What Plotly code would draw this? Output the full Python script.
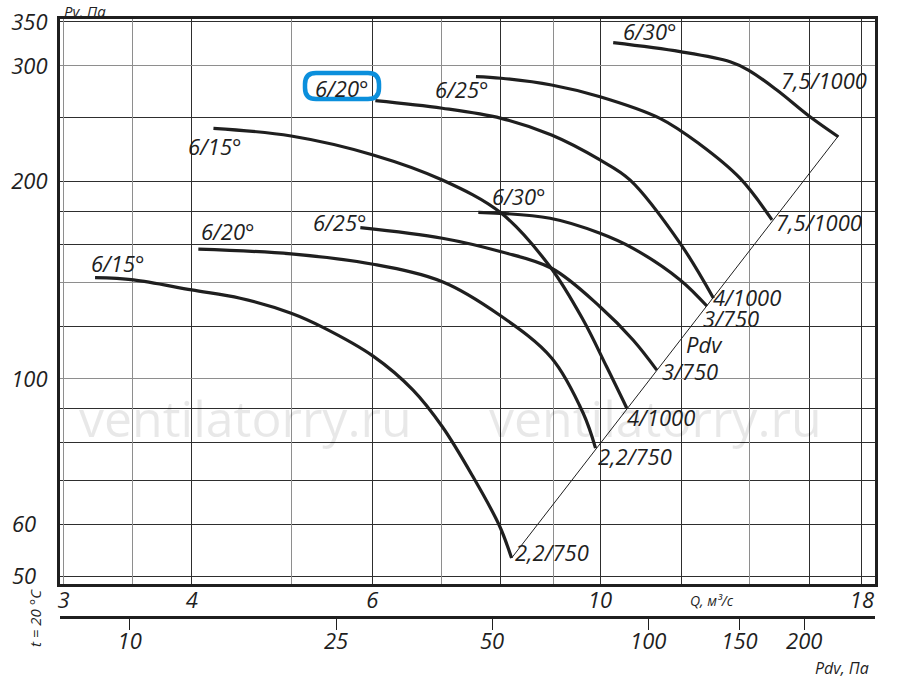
import plotly.graph_objects as go

# --- оси ---------------------------------------------------------------
q_ticks = [3, 4, 6, 10, 18]
q_grid_minor = [8, 12, 16]
q_grid_grey = [3, 3.5, 5, 7, 9, 14]

pv_ticks = [50, 60, 100, 200, 300, 350]
pv_ticktext = ['50\u00a0\u00a0', '60\u00a0\u00a0', '100', '200', '300', '350']
pv_grid_minor = [70, 80, 90, 120, 160, 180, 250]
pv_grid_grey = [100, 140, 300]

pdv_ticks = [10, 25, 50, 100, 150, 200]

# --- характеристики (Q, Pv) -------------------------------------------
q_615a = [3.22, 3.51, 4.0, 4.46, 5.0, 5.37, 6.01, 6.57, 7.02, 7.52, 7.98, 8.2]
p_615a = [142.6, 141.5, 136.6, 132.7, 125.9, 119.8, 108.3, 96.2, 84.5, 70.9, 59.7, 53.3]

q_620a = [4.06, 5.0, 6.01, 7.02, 7.98, 8.97, 9.63, 9.9]
p_620a = [157.7, 155.0, 149.5, 140.6, 125.1, 107.6, 88.6, 78.4]

q_625a = [5.84, 7.02, 8.01, 8.97, 10.0, 10.77, 11.36]
p_625a = [170.0, 163.8, 156.2, 147.4, 128.8, 114.6, 103.1]

q_630a = [7.61, 8.94, 10.0, 10.77, 11.97, 12.71]
p_630a = [179.4, 175.7, 166.7, 158.1, 141.5, 129.1]

q_615b = [4.2, 5.0, 6.01, 7.02, 8.01, 8.94, 9.63, 10.15, 10.62]
p_615b = [240.9, 234.5, 219.4, 200.9, 178.9, 148.2, 122.9, 104.3, 90.2]

q_620b = [6.04, 7.02, 8.01, 8.97, 10.0, 10.7, 11.97, 12.9]
p_620b = [265.5, 258.5, 249.5, 235.3, 215.6, 200.9, 160.9, 132.7]

q_625b = [7.57, 8.01, 8.97, 10.0, 11.44, 12.5, 13.69, 14.71]
p_625b = [288.8, 287.2, 280.5, 269.2, 249.5, 228.0, 202.2, 174.7]

q_630b = [10.3, 11.97, 13.39, 13.95, 14.87, 16.02, 17.07]
p_630b = [325.4, 315.3, 304.4, 295.6, 275.6, 250.9, 233.9]

# линия динамического давления Pdv
q_pdv = [8.2, 17.07]
p_pdv = [53.3, 234.5]

curves = [
    (q_615a, p_615a), (q_620a, p_620a), (q_625a, p_625a), (q_630a, p_630a),
    (q_615b, p_615b), (q_620b, p_620b), (q_625b, p_625b), (q_630b, p_630b),
]

FONT = 'Open Sans'
INK = '#1f1f1f'
DARK = '#2e2e2e'
GREY = '#8e8e8e'

L, R, T, B = 60, 25, 19, 61
W, H = 900, 678
PW, PH = W - L - R, H - T - B


def px(x, y):
    """пиксели окна -> координаты paper"""
    return (x - L) / PW, (H - B - y) / PH


fig = go.Figure()

for q, p in curves:
    fig.add_trace(go.Scatter(
        x=q, y=p, mode='lines',
        line=dict(color=INK, width=3.2, shape='spline', smoothing=1.0),
        hoverinfo='skip', showlegend=False
    ))

fig.add_trace(go.Scatter(
    x=q_pdv, y=p_pdv, mode='lines',
    line=dict(color=INK, width=1),
    hoverinfo='skip', showlegend=False
))

# пустые трассы, чтобы появились вспомогательные оси
fig.add_trace(go.Scatter(x=[None], y=[None], xaxis='x2', yaxis='y',
                         showlegend=False, hoverinfo='skip'))
fig.add_trace(go.Scatter(x=[None], y=[None], xaxis='x3', yaxis='y2',
                         showlegend=False, hoverinfo='skip'))

tick_font = dict(family=FONT, size=22, color=INK, style='italic')
y_dom = [(H - B - 584) / PH, 1]

fig.update_layout(
    width=W, height=H,
    margin=dict(l=L, r=R, t=T, b=B, autoexpand=False),
    paper_bgcolor='white', plot_bgcolor='white',
    showlegend=False,
    xaxis=dict(
        type='log', range=[0.4737, 1.268], automargin=False,
        tickvals=q_ticks, ticktext=[str(v) for v in q_ticks],
        tickfont=tick_font, ticks='', ticklabelstandoff=-5,
        showgrid=True, gridcolor=DARK, gridwidth=1.3,
        minor=dict(tickvals=q_grid_minor, showgrid=True, gridcolor=DARK,
                   gridwidth=1.3, ticks=''),
        showline=True, linecolor=INK, linewidth=3, mirror=True,
        zeroline=False, anchor='y'
    ),
    xaxis3=dict(
        type='log', range=[0.4737, 1.268], overlaying='x', anchor='y',
        tickvals=q_grid_grey, showticklabels=False, ticks='',
        showgrid=True, gridcolor=GREY, gridwidth=1.3, showline=False,
        zeroline=False, automargin=False
    ),
    xaxis2=dict(
        type='log', range=[0.8656, 2.4374], overlaying='x',
        anchor='free', position=0, side='bottom', automargin=False,
        tickvals=pdv_ticks, ticktext=[str(v) for v in pdv_ticks],
        tickfont=tick_font, ticks='outside', ticklen=11, tickwidth=1,
        tickcolor=INK, ticklabelstandoff=-7,
        showgrid=False, showline=True, linecolor=INK, linewidth=3,
        zeroline=False
    ),
    yaxis=dict(
        type='log', range=[1.6872, 2.5485], domain=y_dom, automargin=False,
        tickvals=pv_ticks, ticktext=pv_ticktext,
        tickfont=tick_font, ticks='', ticklabelstandoff=5,
        showgrid=True, gridcolor=DARK, gridwidth=1.3,
        minor=dict(tickvals=pv_grid_minor, showgrid=True, gridcolor=DARK,
                   gridwidth=1.3, ticks=''),
        showline=True, linecolor=INK, linewidth=3, mirror=True,
        zeroline=False
    ),
    yaxis2=dict(
        type='log', range=[1.6872, 2.5485], overlaying='y', side='left',
        tickvals=pv_grid_grey, showticklabels=False, ticks='',
        showgrid=True, gridcolor=GREY, gridwidth=1.3, showline=False,
        zeroline=False, automargin=False
    ),
)

# --- подписи ----------------------------------------------------------
lab_font = dict(family=FONT, size=22, color=INK, style='italic')


def label(text, x, y, anchor='center', font=lab_font, **kw):
    xp, yp = px(x, y)
    fig.add_annotation(text=text, x=xp, y=yp, xref='paper', yref='paper',
                       xanchor=anchor, yanchor='middle', showarrow=False,
                       font=font, **kw)


# углы лопаток
label('6/15°', 118, 263)
label('6/20°', 228, 231)
label('6/25°', 340, 222)
label('6/30°', 519, 196)
label('6/15°', 215, 146)
label('6/20°', 342, 88)
label('6/25°', 462, 89)
label('6/30°', 650, 31)

# мощность / обороты на линии Pdv
label('2,2/750', 513, 552, anchor='left')
label('2,2/750', 596, 456, anchor='left')
label('4/1000', 625, 417, anchor='left')
label('3/750', 660, 371, anchor='left')
label('Pdv', 684, 344, anchor='left')
label('3/750', 701, 318, anchor='left')
label('4/1000', 711, 297, anchor='left')
label('7,5/1000', 774, 222, anchor='left')
label('7,5/1000', 779, 80, anchor='left')

small = dict(family=FONT, size=15, color=INK, style='italic')
label('Pv, Па', 62, 11, anchor='left', font=small)
label('Q, м³/с', 688, 600, anchor='left', font=dict(small, size=14))
label('Pdv, Па', 871, 668, anchor='right', font=dict(small, size=16))
label('t = 20 °C', 35, 618, font=small, textangle=-90)

# водяные знаки
wm = dict(family=FONT, size=50, color='rgba(0,0,0,0.09)')
label('ventilatorry.ru', 245, 418, font=wm)
label('ventilatorry.ru', 655, 418, font=wm)

# синяя рамка вокруг 6/20°
x0, y0 = px(305, 99)
x1, y1 = px(379, 73)
rx, ry = 11 / PW, 11 / PH
path = (f'M {x0 + rx},{y1} L {x1 - rx},{y1} Q {x1},{y1} {x1},{y1 - ry} '
        f'L {x1},{y0 + ry} Q {x1},{y0} {x1 - rx},{y0} '
        f'L {x0 + rx},{y0} Q {x0},{y0} {x0},{y0 + ry} '
        f'L {x0},{y1 - ry} Q {x0},{y1} {x0 + rx},{y1} Z')
fig.add_shape(type='path', path=path, xref='paper', yref='paper',
              line=dict(color='#0b8fdc', width=4.5))

# убрать стандартный отступ body, чтобы график стоял в углу окна
fig.write_html('out.html', config={'displayModeBar': False},
               post_script="document.body.style.margin='0px';")
